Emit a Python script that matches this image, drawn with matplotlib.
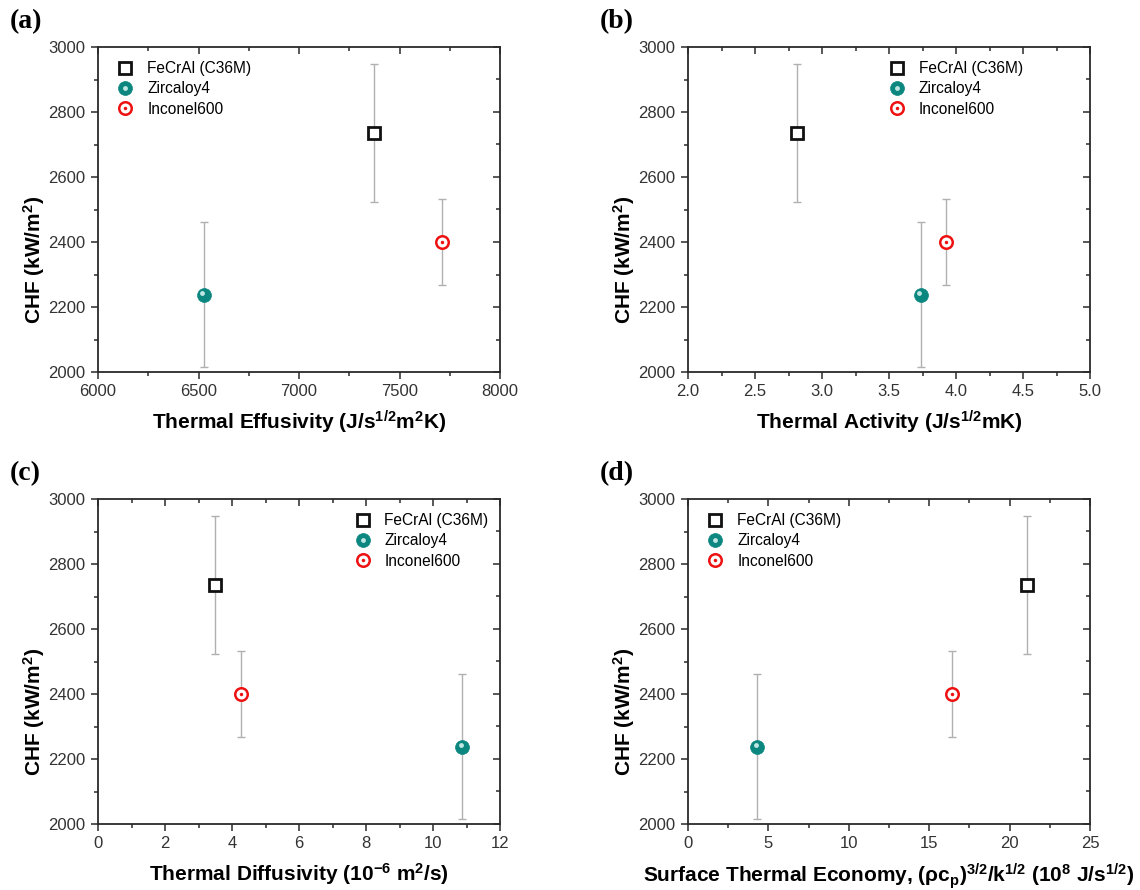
import numpy as np
import matplotlib as mpl
mpl.use('Agg')
import matplotlib.pyplot as plt
from matplotlib.transforms import offset_copy
from matplotlib.ticker import MultipleLocator, AutoMinorLocator

plt.rcParams['font.family'] = ['Liberation Sans', 'DejaVu Sans']
plt.rcParams['mathtext.fontset'] = 'custom'
plt.rcParams['mathtext.rm'] = 'Liberation Sans:bold'
plt.rcParams['mathtext.bf'] = 'Liberation Sans:bold'
plt.rcParams['mathtext.default'] = 'rm'

# materials, CHF and its error (kW/m2)
materials = ['FeCrAl (C36M)', 'Zircaloy4', 'Inconel600']
chf = [2736, 2238, 2400]
chf_err = [213, 223, 132]

# thermal properties of each material
effusivity = [7375, 6527, 7711]      # J/s^1/2 m^2 K
activity = [2.815, 3.738, 3.926]     # J/s^1/2 m K
diffusivity = [3.49, 10.87, 4.27]    # 1e-6 m^2/s
economy = [21.1, 4.3, 16.4]          # 1e8 J/s^1/2

# tag, x data, x range, major step, x label, legend anchor x (axes fraction)
panels = [
    ('(a)', effusivity, (6000, 8000), 500, 'Thermal Effusivity (J/s$^{1/2}$m$^2$K)', 0.018),
    ('(b)', activity, (2.0, 5.0), 0.5, 'Thermal Activity (J/s$^{1/2}$mK)', 0.47),
    ('(c)', diffusivity, (0, 12), 2, 'Thermal Diffusivity (10$^{-6}$ m$^2$/s)', 0.608),
    ('(d)', economy, (0, 25), 5,
     'Surface Thermal Economy, (ρc$_p$)$^{3/2}$/k$^{1/2}$ (10$^8$ J/s$^{1/2}$)', 0.018),
]

fig = plt.figure(figsize=(11.4, 8.9), dpi=100)
W, H = 1140, 890
boxes = [(98, 47), (688, 47), (98, 499), (688, 499)]
aw, ah = 402, 325

teal = '#0b8780'
dark = '#2a2a2a'
for (tag, xs, xlim, xstep, xlabel, legx), (l, t) in zip(panels, boxes):
    ax = fig.add_axes([l / W, 1 - (t + ah) / H, aw / W, ah / H])
    ax.set_xlim(*xlim)
    ax.set_ylim(2000, 3000)

    ax.errorbar(xs, chf, yerr=chf_err, fmt='none', ecolor='#b0b0b0',
                elinewidth=1.0, capsize=3, capthick=1, zorder=1)

    h_fe, = ax.plot(xs[0], chf[0], 's', ms=8, mfc='white', mec='#111111',
                    mew=2.0, ls='none', zorder=3)
    h_zr, = ax.plot(xs[1], chf[1], 'o', ms=10, mfc=teal, mec=teal,
                    mew=0.5, ls='none', zorder=3)
    hl = offset_copy(ax.transData, fig=fig, x=-1.5, y=1.5, units='dots')
    h_zr2, = ax.plot(xs[1], chf[1], 'o', ms=3.5, mfc='#bfe6e2', mec='none',
                     ls='none', transform=hl, zorder=4)
    h_in, = ax.plot(xs[2], chf[2], 'o', ms=9, mfc='white', mec='#ee1111',
                    mew=1.8, ls='none', zorder=3)
    h_in2, = ax.plot(xs[2], chf[2], 'o', ms=2.5, mfc='#ee1111', mec='none',
                     ls='none', zorder=4)

    ax.legend([h_fe, (h_zr, h_zr2), (h_in, h_in2)], materials, frameon=False,
              fontsize=11.2, handlelength=1.0, handletextpad=0.9,
              labelspacing=0.34, borderaxespad=0.4,
              loc='upper left', bbox_to_anchor=(legx, 0.995))

    ax.xaxis.set_major_locator(MultipleLocator(xstep))
    ax.xaxis.set_minor_locator(AutoMinorLocator(2))
    ax.yaxis.set_major_locator(MultipleLocator(200))
    ax.yaxis.set_minor_locator(AutoMinorLocator(2))
    if tag == '(b)':
        ax.xaxis.set_major_formatter(mpl.ticker.FormatStrFormatter('%.1f'))

    for s in ax.spines.values():
        s.set_linewidth(1.3)
        s.set_color(dark)
    ax.tick_params(which='both', direction='out', top=False, right=False,
                   labelsize=12, colors=dark, labelcolor='#333333', width=1.1)
    ax.tick_params(which='major', length=5, pad=4)
    ax.tick_params(which='minor', length=3)
    # mirrored inward ticks on the top and right spines
    for edge in ('top', 'right'):
        tw = ax.secondary_xaxis('top') if edge == 'top' else ax.secondary_yaxis('right')
        axis = tw.xaxis if edge == 'top' else tw.yaxis
        axis.set_major_locator(MultipleLocator(xstep if edge == 'top' else 200))
        axis.set_minor_locator(AutoMinorLocator(2))
        tw.tick_params(which='both', direction='in', labelbottom=False,
                       labeltop=False, labelleft=False, labelright=False,
                       width=1.1, colors=dark)
        tw.tick_params(which='major', length=5)
        tw.tick_params(which='minor', length=3)
        tw.spines[edge].set_visible(False)

    ax.set_xlabel(xlabel, fontsize=15, fontweight='bold', labelpad=7)
    ax.set_ylabel('CHF (kW/m$^2$)', fontsize=15, fontweight='bold', labelpad=7)
    ax.yaxis.set_label_coords(-0.128, 0.345)

    fig.text((l - 88) / W, 1 - (t - 25) / H, tag, fontsize=20, fontweight='bold',
             family=['Liberation Serif', 'DejaVu Serif'], va='center', ha='left')

fig.savefig('out.png', dpi=100)
